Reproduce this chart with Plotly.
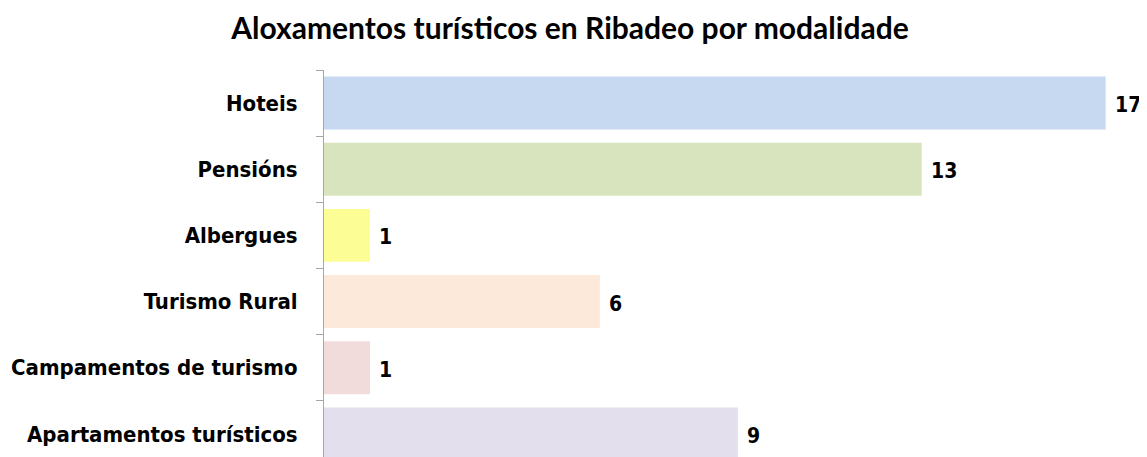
import plotly.graph_objects as go

categories = ["Hoteis", "Pensións", "Albergues", "Turismo Rural",
              "Campamentos de turismo", "Apartamentos turísticos"]
values = [17, 13, 1, 6, 1, 9]
colors = ["#c6d9f1", "#d7e4bd", "#fdfd96", "#fde9d9", "#f2dcdb", "#e4dfec"]

label_font = dict(family="DejaVu Sans Condensed, sans-serif",
                  size=22, color="#000000", weight="bold")
value_font = dict(family="DejaVu Sans Condensed, sans-serif",
                  size=21, color="#000000", weight="bold")

fig = go.Figure()
fig.add_trace(go.Bar(
    x=values, y=categories, orientation="h",
    marker=dict(color=colors, line=dict(width=0)),
    width=0.8, showlegend=False, hoverinfo="skip",
))

for c, v in zip(categories, values):
    fig.add_annotation(x=v, y=c, text=str(v), showarrow=False,
                       xanchor="left", xshift=7, yshift=-2, font=value_font)

# page body has an 8px margin, so the figure is drawn 8px smaller
fig.update_layout(
    width=1139, height=449,
    margin=dict(l=316, r=0, t=62, b=0, autoexpand=False),
    paper_bgcolor="white", plot_bgcolor="white",
    title=dict(text="<b>Aloxamentos turísticos en Ribadeo por modalidade</b>",
               x=0.4934, xanchor="center", y=0.955, yanchor="middle",
               yref="container", automargin=False,
               font=dict(family="Lato, Open Sans, sans-serif", size=30, color="#000000")),
    bargap=0.2,
)
fig.update_xaxes(range=[0, 17.9], visible=False, showgrid=False, zeroline=False)
fig.update_yaxes(categoryorder="array", categoryarray=categories,
                 range=[5.35, -0.5], autorange=False, automargin=False,
                 showline=True, linecolor="#a6a6a6", linewidth=1,
                 ticks="outside", tickson="boundaries", ticklen=7,
                 tickcolor="#a6a6a6", tickwidth=1,
                 ticklabelstandoff=21,
                 showgrid=False, zeroline=False, tickfont=label_font)

fig.write_html("out.html")
